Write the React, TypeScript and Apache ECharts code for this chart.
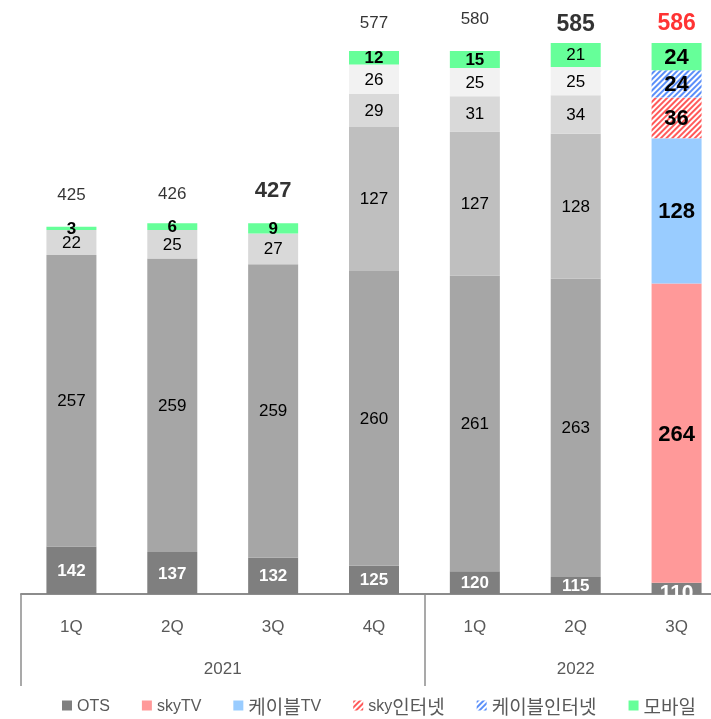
import React, { useEffect, useRef } from "react";
import * as echarts from "echarts";

const quarters = ["1Q", "2Q", "3Q", "4Q", "1Q", "2Q", "3Q"];
const years = ["2021", "2021", "2021", "2021", "2022", "2022", "2022"];
const seriesNames = ["OTS", "skyTV", "케이블TV", "sky인터넷", "케이블인터넷", "모바일"];
const ots = [142, 137, 132, 125, 120, 115, 110];
const skyTV = [257, 259, 259, 260, 261, 263, 264];
const cableTV = [null, null, null, 127, 127, 128, 128];
const skyNet = [22, 25, 27, 29, 31, 34, 36];
const cableNet = [null, null, null, 26, 25, 25, 24];
const mobile = [3, 6, 9, 12, 15, 21, 24];
const totals = [425, 426, 427, 577, 580, 585, 586];

const FONT = "'Liberation Sans', Arial, 'Noto Sans CJK KR', sans-serif";
const KFONT = "'Noto Sans CJK KR', sans-serif";
const categories = quarters.map((q, i) => `${years[i]} ${q}`);
const HIGHLIGHT = categories.length - 1;

const redDecal = {
  symbol: "rect",
  symbolSize: 1,
  color: "#ff5a5a",
  backgroundColor: "#ffffff",
  dashArrayX: [1, 0],
  dashArrayY: [1.6, 1.6],
  rotation: -Math.PI / 4,
};
const blueDecal = { ...redDecal, color: "#5b8ff9" };

const grays = ["#7f7f7f", "#a6a6a6", "#bfbfbf", "#d9d9d9", "#f2f2f2", "#66ff99"];
const lastStyles: any[] = [
  { color: "#7f7f7f" },
  { color: "#ff9999" },
  { color: "#99ccff" },
  { color: "#ffffff", decal: redDecal },
  { color: "#ffffff", decal: blueDecal },
  { color: "#66ff99" },
];
const boldMobile = [true, true, true, true, true, false, true];

function buildSeries(name: string, values: (number | null)[], idx: number) {
  const isOts = idx === 0;
  return {
    name,
    type: "bar",
    stack: "total",
    barWidth: 50,
    itemStyle: { color: grays[idx] },
    label: {
      show: true,
      position: "inside",
      fontFamily: FONT,
      fontSize: 17,
      color: isOts ? "#ffffff" : "#000000",
      fontWeight: isOts ? "bold" : "normal",
    },
    data: values.map((v, i) => {
      if (v === null) return "-";
      if (i === HIGHLIGHT) {
        return {
          value: v,
          itemStyle: lastStyles[idx],
          label: {
            fontSize: isOts ? 21 : 22,
            fontWeight: "bold",
            offset: isOts ? [0, 3] : [0, 0],
          },
        };
      }
      if (idx === 5) {
        return { value: v, label: { fontWeight: boldMobile[i] ? "bold" : "normal" } };
      }
      return v;
    }),
  };
}

function legendFormatter(name: string) {
  const parts = name.match(/[A-Za-z]+|[^A-Za-z]+/g) || [name];
  return parts.map((p) => (/[A-Za-z]/.test(p) ? `{l|${p}}` : `{k|${p}}`)).join("");
}

export default function App() {
  const ref = useRef<HTMLDivElement>(null);
  useEffect(() => {
    if (!ref.current) return;
    const chart = echarts.init(ref.current, null, { renderer: "svg" });
    const valueSets = [ots, skyTV, cableTV, skyNet, cableNet, mobile];
    const series: any[] = valueSets.map((vals, i) => buildSeries(seriesNames[i], vals, i));
    series.push({
      name: "합계",
      type: "scatter",
      symbolSize: 1,
      itemStyle: { color: "rgba(0,0,0,0)" },
      label: {
        show: true,
        position: "top",
        distance: 22,
        fontFamily: FONT,
        fontSize: 17,
        color: "#000",
      },
      data: totals.map((t, i) => {
        if (i === HIGHLIGHT) {
          return { value: t, label: { fontSize: 23, fontWeight: "bold", color: "#ff0000", distance: 9 } };
        }
        if (i === 5) {
          return { value: t, label: { fontSize: 23, fontWeight: "bold", color: "#000", distance: 9 } };
        }
        if (i === 2) {
          return { value: t, label: { fontSize: 22, fontWeight: "bold", color: "#000" } };
        }
        return t;
      }),
    });

    const option: any = {
      animation: false,
      grid: { left: 21, top: 0, right: 0, height: 594 },
      xAxis: {
        type: "category",
        data: categories,
        axisLine: { lineStyle: { color: "#8c8c8c", width: 2 } },
        axisTick: {
          show: true,
          length: 92,
          interval: (index: number) => index === 0 || years[index] !== years[index - 1],
          lineStyle: { color: "#8c8c8c", width: 1.5 },
        },
        axisLabel: {
          margin: 24,
          fontFamily: FONT,
          fontSize: 17,
          color: "#595959",
          formatter: (v: string) => v.split(" ")[1],
        },
      },
      yAxis: {
        type: "value",
        min: 100,
        max: 624,
        show: false,
        splitLine: { show: false },
      },
      legend: {
        left: 62,
        top: 696,
        padding: 0,
        itemWidth: 10,
        itemHeight: 10,
        itemGap: 32,
        icon: "rect",
        formatter: legendFormatter,
        textStyle: {
          color: "#595959",
          rich: {
            l: { fontFamily: FONT, fontSize: 16, color: "#595959", lineHeight: 20 },
            k: { fontFamily: KFONT, fontSize: 19, color: "#595959", lineHeight: 20 },
          },
        },
        data: seriesNames.map((n, i) => ({ name: n, itemStyle: lastStyles[i] })),
      },
      series,
    };
    chart.setOption(option);

    const yearNames = Array.from(new Set(years));
    const graphics = yearNames.map((y) => {
      const idxs = years.map((yy, i) => (yy === y ? i : -1)).filter((i) => i >= 0);
      const x0 = chart.convertToPixel({ xAxisIndex: 0 }, categories[idxs[0]]) as number;
      const x1 = chart.convertToPixel({ xAxisIndex: 0 }, categories[idxs[idxs.length - 1]]) as number;
      return {
        type: "text",
        x: (x0 + x1) / 2,
        y: 668,
        style: {
          text: y,
          fontFamily: FONT,
          fontSize: 17,
          fill: "#595959",
          textAlign: "center",
          textVerticalAlign: "middle",
        },
      };
    });
    chart.setOption({ graphic: graphics });

    return () => chart.dispose();
  }, []);
  return (
    <div
      ref={ref}
      style={{ position: "fixed", left: 0, top: 0, width: 727, height: 719 }}
    />
  );
}
